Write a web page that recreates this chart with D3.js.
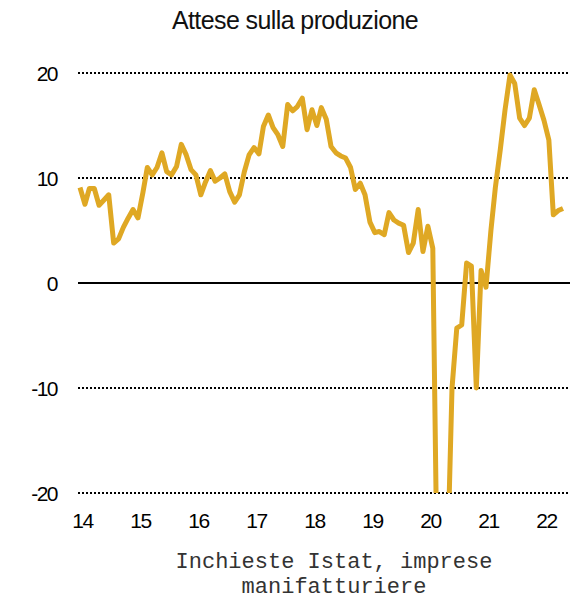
<!DOCTYPE html>
<html>
<head>
<meta charset="utf-8">
<script src="https://cdn.jsdelivr.net/npm/d3@7"></script>
<style>
  html, body { margin: 0; padding: 0; background: #fff; }
  svg { display: block; }
</style>
</head>
<body>
<svg id="chart" width="574" height="599"></svg>
<script>
// ---- data ----
const title = "Attese sulla produzione";
const captionLines = ["Inchieste Istat, imprese", "manifatturiere"];
const startMonth = "2014-01";
// monthly balance, Jan 2014 .. May 2022 (values below -20 are clipped in the chart)
const values = [
  9.1, 7.5, 9.0, 9.0, 7.4, 7.9, 8.4, 3.8, 4.2, 5.3, 6.2, 7.0,      // 2014
  6.2, 8.6, 11.0, 10.3, 11.0, 12.4, 10.6, 10.3, 11.1, 13.2, 12.2, 10.8, // 2015
  10.3, 8.4, 9.6, 10.7, 9.7, 10.0, 10.4, 8.7, 7.7, 8.4, 10.6, 12.2,    // 2016
  12.9, 12.3, 14.9, 16.0, 14.8, 14.1, 13.0, 17.0, 16.4, 16.8, 17.6, 14.6, // 2017
  16.5, 15.0, 16.7, 15.6, 13.0, 12.4, 12.1, 11.9, 11.0, 8.9, 9.5, 8.4,  // 2018
  5.8, 4.8, 4.9, 4.6, 6.7, 6.0, 5.7, 5.5, 2.9, 3.8, 7.0, 3.0,          // 2019
  5.4, 3.3, -30, -40, -28, -10, -4.3, -4.0, 1.9, 1.6, -10, 1.2,        // 2020
  -0.4, 5.0, 9.1, 12.7, 16.5, 19.8, 19.0, 15.7, 15.0, 15.7, 18.4, 17.0, // 2021
  15.5, 13.6, 6.5, 6.9, 7.1                                            // 2022
];
const yTicks = [20, 10, 0, -10, -20];
const yTickLabels = ["20", "10", "0", "-10", "-20"];
const yearLabels = ["14", "15", "16", "17", "18", "19", "20", "21", "22"];

// ---- build ----
const parseMonth = d3.timeParse("%Y-%m");
const t0 = parseMonth(startMonth);
const data = values.map((v, i) => ({ date: d3.timeMonth.offset(t0, i), value: v }));

const svg = d3.select("#chart");
const x = d3.scaleTime()
  .domain([data[0].date, data[data.length - 1].date])
  .range([80, 563]);
const y = d3.scaleLinear().domain([-20, 20]).range([493, 73]);

const gridLeft = 78, gridRight = 570;

// title
svg.append("text")
  .attr("x", 295).attr("y", 29)
  .attr("text-anchor", "middle")
  .attr("font-family", "Liberation Sans, Arial, sans-serif")
  .attr("font-size", 25)
  .attr("letter-spacing", "-0.6px")
  .attr("fill", "#111")
  .text(title);

// gridlines
svg.append("g").selectAll("line")
  .data(yTicks.filter(d => d !== 0))
  .join("line")
  .attr("x1", gridLeft).attr("x2", gridRight)
  .attr("y1", d => y(d)).attr("y2", d => y(d))
  .attr("stroke", "#000")
  .attr("stroke-width", 1.8)
  .attr("stroke-dasharray", "2,2");

svg.append("line")
  .attr("x1", gridLeft).attr("x2", gridRight)
  .attr("y1", y(0)).attr("y2", y(0))
  .attr("stroke", "#000")
  .attr("stroke-width", 2);

// y axis labels
const yAxis = d3.axisLeft(y).tickValues(yTicks).tickSize(0).tickPadding(0)
  .tickFormat((d, i) => yTickLabels[i]);
const gy = svg.append("g").attr("transform", "translate(57,0)").call(yAxis);
gy.select(".domain").remove();
gy.selectAll("text")
  .attr("font-family", "Liberation Sans, Arial, sans-serif")
  .attr("font-size", 21)
  .attr("letter-spacing", "-1.5px")
  .attr("fill", "#000")
  .attr("dy", "0.36em");

// x axis labels
const years = d3.timeYear.range(d3.timeYear.floor(data[0].date), data[data.length - 1].date);
const xAxis = d3.axisBottom(x).tickValues(years).tickSize(0).tickPadding(0)
  .tickFormat((d, i) => yearLabels[i]);
const gx = svg.append("g").attr("transform", "translate(2,513)").call(xAxis);
gx.select(".domain").remove();
gx.selectAll("text")
  .attr("font-family", "Liberation Sans, Arial, sans-serif")
  .attr("font-size", 21)
  .attr("letter-spacing", "-1.5px")
  .attr("fill", "#000")
  .attr("dy", "0.71em");

// clip
svg.append("clipPath").attr("id", "plotclip")
  .append("rect")
  .attr("x", 0).attr("y", 0)
  .attr("width", 574).attr("height", y(-20));

// line
const line = d3.line().x(d => x(d.date)).y(d => y(d.value)).curve(d3.curveLinear);
svg.append("path")
  .datum(data)
  .attr("clip-path", "url(#plotclip)")
  .attr("d", line)
  .attr("fill", "none")
  .attr("stroke", "#DFA824")
  .attr("stroke-width", 5)
  .attr("stroke-linejoin", "round")
  .attr("stroke-linecap", "butt");

// caption
svg.append("g").selectAll("text")
  .data(captionLines)
  .join("text")
  .attr("x", 334)
  .attr("y", (d, i) => 568 + i * 25)
  .attr("text-anchor", "middle")
  .attr("font-family", "Liberation Mono, Courier New, monospace")
  .attr("font-size", 22)
  .attr("fill", "#333")
  .text(d => d);
</script>
</body>
</html>
